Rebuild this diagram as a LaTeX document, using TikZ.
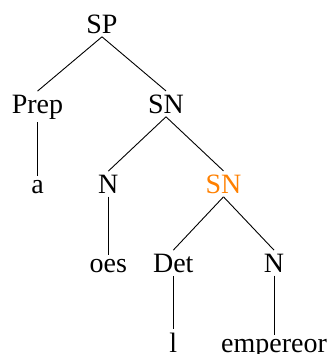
\documentclass[tikz,border=0pt]{standalone}
\usepackage{fontspec}
\setmainfont{Liberation Serif}
\begin{document}
\begin{tikzpicture}[x=1pt,y=-1pt,
  lab/.style={anchor=base,inner sep=0.3333em,font=\fontsize{28}{33}\selectfont},
  edge/.style={line width=0.9pt,black}]
\useasboundingbox (0,0) rectangle (329,354);
\node[lab] (sp) at (102,33) {SP};
\node[lab] (prep) at (37.5,113) {Prep};
\node[lab] (sn1) at (166,113) {SN};
\node[lab] (a) at (37.5,193) {a};
\node[lab] (n1) at (108.3,193) {N};
\node[lab,text=orange] (sn2) at (223.5,193) {SN};
\node[lab] (oes) at (108.3,272) {oes};
\node[lab] (det) at (173.3,272) {Det};
\node[lab] (n2) at (274,272) {N};
\node[lab] (l) at (173.3,352) {l};
\node[lab] (emp) at (274,352) {empereor};
\draw[edge] (sp.south) -- (prep.north);
\draw[edge] (sp.south) -- (sn1.north);
\draw[edge] (prep.south) -- (a.north);
\draw[edge] (sn1.south) -- (n1.north);
\draw[edge] (sn1.south) -- (sn2.north);
\draw[edge] (n1.south) -- (oes.north);
\draw[edge] (sn2.south) -- (det.north);
\draw[edge] (sn2.south) -- (n2.north);
\draw[edge] (det.south) -- (l.north);
\draw[edge] (n2.south) -- (emp.north);
\end{tikzpicture}
\end{document}
